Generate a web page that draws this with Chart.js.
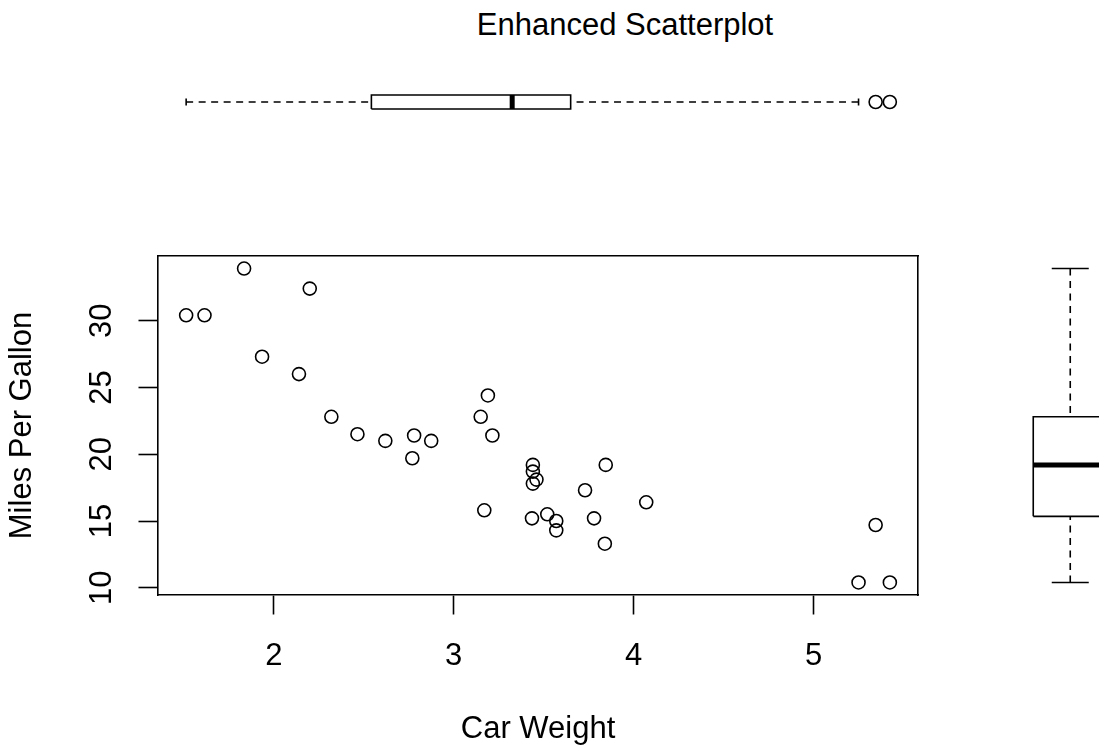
<!DOCTYPE html>
<html>
<head>
<meta charset="utf-8">
<title>Enhanced Scatterplot</title>
<script src="https://cdn.jsdelivr.net/npm/chart.js@4.4.1/dist/chart.umd.min.js"></script>
<style>
  html, body { margin: 0; padding: 0; background: #fff; overflow: hidden; }
  body { width: 1099px; height: 751px; position: relative; }
  canvas { position: absolute; }
  #title {
    position: absolute; left: 625px; top: 7px; transform: translateX(-50%);
    font: 31px "Liberation Sans", Arial, Helvetica, sans-serif; white-space: nowrap; color: #000;
  }
</style>
</head>
<body>
<div id="title">Enhanced Scatterplot</div>
<canvas id="mainChart" width="1099" height="751" style="left:0;top:0"></canvas>
<canvas id="topBox" width="1099" height="60" style="left:0;top:72px"></canvas>
<canvas id="rightBox" width="133" height="751" style="left:1004px;top:0"></canvas>
<script>
// car weight (1000 lbs) and miles per gallon, one entry per car
const carWeight = [2.620, 2.875, 2.320, 3.215, 3.440, 3.460, 3.570, 3.190, 3.150, 3.440, 3.440,
  4.070, 3.730, 3.780, 5.250, 5.424, 5.345, 2.200, 1.615, 1.835, 2.465, 3.520, 3.435, 3.840,
  3.845, 1.935, 2.140, 1.513, 3.170, 2.770, 3.570, 2.780];
const carMpg = [21.0, 21.0, 22.8, 21.4, 18.7, 18.1, 14.3, 24.4, 22.8, 19.2, 17.8,
  16.4, 17.3, 15.2, 10.4, 10.4, 14.7, 32.4, 30.4, 33.9, 21.5, 15.5, 15.2, 13.3,
  19.2, 27.3, 26.0, 30.4, 15.8, 19.7, 15.0, 21.4];
const xTicks = [2, 3, 4, 5];
const yTicks = [10, 15, 20, 25, 30];

const family = '"Liberation Sans", Arial, Helvetica, sans-serif';
const textSize = 31;
const lw = 1.6;
Chart.defaults.font.family = family;
Chart.defaults.color = '#000';

// R style axis range: data range stretched by 4% each side
function rRange(v) {
  const lo = Math.min(...v), hi = Math.max(...v), pad = (hi - lo) * 0.04;
  return [lo - pad, hi + pad];
}
// Tukey five number summary, like R's fivenum
function fivenum(v) {
  const s = [...v].sort((a, b) => a - b), n = s.length;
  const n4 = Math.floor((n + 3) / 2) / 2;
  return [1, n4, (n + 1) / 2, n + 1 - n4, n].map(k => 0.5 * (s[Math.floor(k) - 1] + s[Math.ceil(k) - 1]));
}
function boxStats(v) {
  const [, q1, med, q3] = fivenum(v);
  const iqr = q3 - q1;
  const inside = v.filter(x => x >= q1 - 1.5 * iqr && x <= q3 + 1.5 * iqr);
  return {lo: Math.min(...inside), q1, med, q3, hi: Math.max(...inside),
    out: v.filter(x => x < q1 - 1.5 * iqr || x > q3 + 1.5 * iqr)};
}

// boxplot drawn as line datasets, centred on 1 of the cross axis
function boxDatasets(st, horizontal) {
  const pt = (v, c) => horizontal ? {x: v, y: c} : {x: c, y: v};
  const half = 0.4, cap = 0.2;
  const line = (data, extra) => Object.assign({
    data, showLine: true, borderColor: '#000', borderWidth: lw, pointRadius: 0,
    pointHoverRadius: 0, fill: false, clip: false, borderJoinStyle: 'miter'
  }, extra || {});
  return [
    // whiskers run from the ends in towards the box, like R does
    line([pt(st.lo, 1), pt(st.q1, 1)], {borderDash: [7, 5.5]}),
    line([pt(st.hi, 1), pt(st.q3, 1)], {borderDash: [7, 5.5]}),
    line([pt(st.lo, 1 - cap), pt(st.lo, 1 + cap)]),
    line([pt(st.hi, 1 - cap), pt(st.hi, 1 + cap)]),
    line([pt(st.q1, 1 - half), pt(st.q3, 1 - half), pt(st.q3, 1 + half), pt(st.q1, 1 + half), pt(st.q1, 1 - half)]),
    line([pt(st.med, 1 - half), pt(st.med, 1 + half)], {borderWidth: 5}),
    {data: st.out.map(v => pt(v, 1)), showLine: false, pointRadius: 6.5, pointHoverRadius: 6.5,
      pointBorderWidth: lw, pointBorderColor: '#000', pointBackgroundColor: 'rgba(0,0,0,0)', clip: false}
  ];
}

const xr = rRange(carWeight);
const yr = rRange(carMpg);
const common = {
  responsive: false, animation: false, events: [],
  plugins: {legend: {display: false}, tooltip: {enabled: false}, title: {display: false}}
};
const frameAxis = (pos, min, max) => ({
  type: 'linear', position: pos, min, max,
  grid: {drawOnChartArea: false, drawTicks: false},
  ticks: {display: false},
  border: {display: true, color: '#000', width: lw},
  afterFit: s => { if (s.isHorizontal()) s.height = 0; else s.width = 0; }
});

// Main scatter
new Chart(document.getElementById('mainChart'), {
  type: 'scatter',
  data: {
    datasets: [{
      data: carWeight.map((w, i) => ({x: w, y: carMpg[i]})),
      pointRadius: 6.5, pointHoverRadius: 6.5, pointBorderWidth: lw,
      pointBorderColor: '#000', pointBackgroundColor: 'rgba(0,0,0,0)'
    }]
  },
  options: Object.assign({}, common, {
    layout: {padding: {left: 0, top: 256, right: 181, bottom: 0}},
    scales: {
      x: {
        type: 'linear', position: 'bottom', min: xr[0], max: xr[1],
        afterBuildTicks: s => { s.ticks = xTicks.map(v => ({value: v})); },
        afterFit: s => { s.height = 156; },
        grid: {drawOnChartArea: false, drawTicks: true, tickLength: 19.5, tickColor: '#000', tickWidth: lw},
        border: {display: true, color: '#000', width: lw},
        ticks: {font: {size: textSize}, padding: 23, maxRotation: 0, autoSkip: false},
        title: {display: true, text: 'Car Weight', font: {size: textSize}, padding: {top: 0, bottom: 3.4}}
      },
      y: {
        type: 'linear', position: 'left', min: yr[0], max: yr[1],
        afterBuildTicks: s => { s.ticks = yTicks.map(v => ({value: v})); },
        afterFit: s => { s.width = 158; },
        grid: {drawOnChartArea: false, drawTicks: true, tickLength: 19.5, tickColor: '#000', tickWidth: lw},
        border: {display: true, color: '#000', width: lw},
        ticks: {font: {size: textSize}, padding: 19, minRotation: 90, maxRotation: 90, crossAlign: 'center', autoSkip: false},
        title: {display: true, text: 'Miles Per Gallon', font: {size: textSize}, padding: {top: 3.4, bottom: 0}}
      },
      xTop: frameAxis('top', xr[0], xr[1]),
      yRight: frameAxis('right', yr[0], yr[1])
    }
  })
});

// Weight boxplot above the scatter
new Chart(document.getElementById('topBox'), {
  type: 'scatter',
  data: {datasets: boxDatasets(boxStats(carWeight), true)},
  options: Object.assign({}, common, {
    layout: {padding: {left: 158, right: 181, top: 21.25, bottom: 21.25}},
    scales: {
      x: {type: 'linear', min: xr[0], max: xr[1], display: false},
      y: {type: 'linear', min: 0.5, max: 1.5, display: false}
    }
  })
});

// Mpg boxplot to the right
new Chart(document.getElementById('rightBox'), {
  type: 'scatter',
  data: {datasets: boxDatasets(boxStats(carMpg), false)},
  options: Object.assign({}, common, {
    layout: {padding: {left: 20, right: 20.5, top: 256, bottom: 156}},
    scales: {
      x: {type: 'linear', min: 0.5, max: 1.5, display: false},
      y: {type: 'linear', min: yr[0], max: yr[1], display: false}
    }
  })
});
</script>
</body>
</html>
